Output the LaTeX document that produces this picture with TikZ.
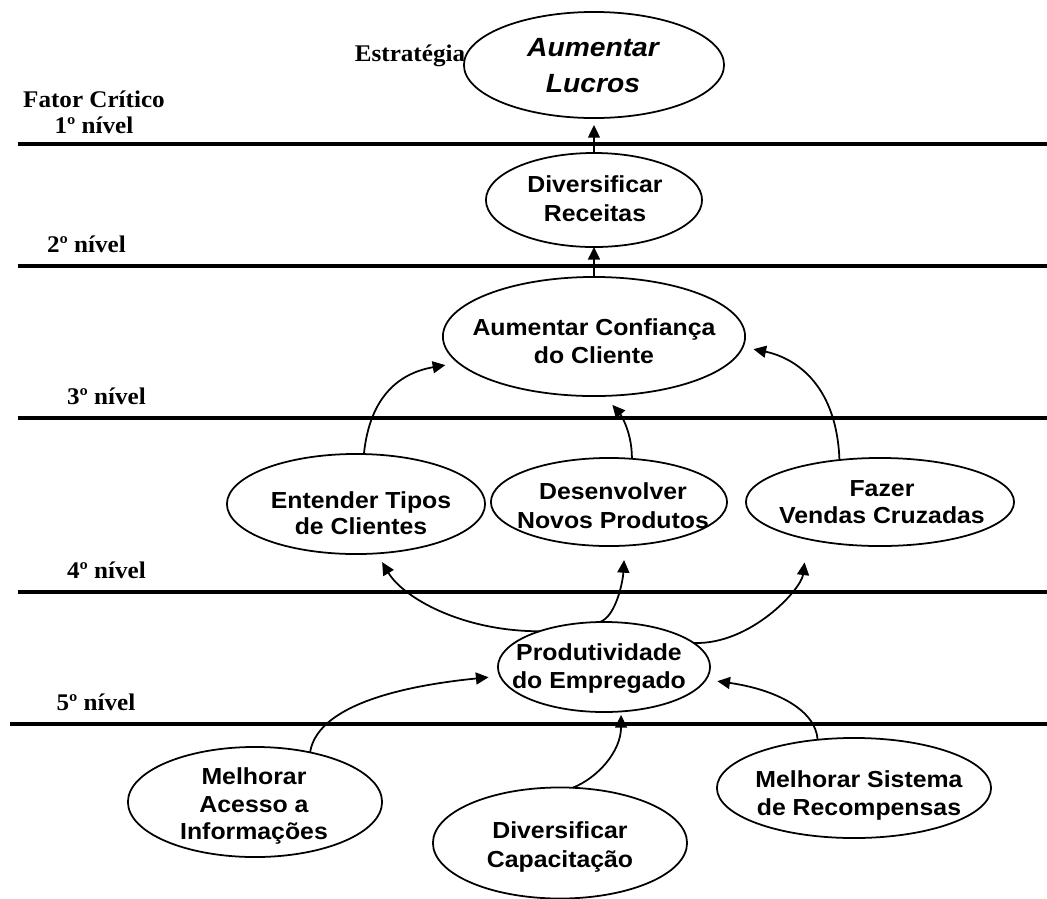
\documentclass[tikz,border=0pt]{standalone}
\usepackage{fontspec}
\usetikzlibrary{arrows.meta,shapes.geometric}
\newfontfamily\lblfont{Liberation Serif}[FakeStretch=1.05]
\newfontfamily\boxfont{Liberation Sans}[FakeStretch=1.07]

\begin{document}
\begin{tikzpicture}[x=0.01cm,y=-0.01cm,
  goal/.style={ellipse,draw,line width=0.5pt,inner sep=0pt,outer sep=0pt},
  boxtxt/.style={anchor=north,align=center,inner sep=0pt,
    font=\boxfont\bfseries\fontsize{6.6pt}{#1}\selectfont},
  boxtxt/.default=7.7pt,
  lvl/.style={inner sep=0pt,font=\lblfont\bfseries\fontsize{6.8pt}{7.4pt}\selectfont},
  level/.style={line width=1.05pt},
  link/.style={line width=0.5pt,-{Triangle[length=3.6pt,width=3.4pt]}}
]
\useasboundingbox (0,0) rectangle (1047,899);

% level separators
\draw[level] (18,144) -- (1047,144);
\draw[level] (18,266) -- (1047,266);
\draw[level] (18,418) -- (1047,418);
\draw[level] (18,592) -- (1047,592);
\draw[level] (10,724) -- (1047,724);

% level captions
\node[lvl,anchor=base] (estr) at (410,61) {Estratégia};
\node[lvl,anchor=north,align=center] (fator) at (94,90) {Fator Crítico\\1º nível};
\node[lvl,anchor=base] (n2) at (86.5,252) {2º nível};
\node[lvl,anchor=base] (n3) at (106.5,404) {3º nível};
\node[lvl,anchor=base] (n4) at (106.5,578) {4º nível};
\node[lvl,anchor=base] (n5) at (96,710) {5º nível};

% goal ellipses
\node[goal,minimum width=2.60cm,minimum height=1.06cm] (luc) at (594,65) {};
\node[goal,minimum width=2.16cm,minimum height=0.94cm] (rec) at (594,200) {};
\node[goal,minimum width=3.02cm,minimum height=1.19cm] (ac)  at (594,336.5) {};
\node[goal,minimum width=2.58cm,minimum height=1.00cm] (ent) at (356,504) {};
\node[goal,minimum width=2.36cm,minimum height=0.88cm] (dev) at (609,502) {};
\node[goal,minimum width=2.68cm,minimum height=0.88cm] (faz) at (880,502) {};
\node[goal,minimum width=2.12cm,minimum height=0.90cm] (pro) at (604,667) {};
\node[goal,minimum width=2.54cm,minimum height=1.10cm] (mel) at (255,802) {};
\node[goal,minimum width=2.54cm,minimum height=1.11cm] (cap) at (560,843) {};
\node[goal,minimum width=2.74cm,minimum height=1.00cm] (sis) at (854,788) {};

% texts of the goals
\node[anchor=north,align=center,inner sep=0pt,
  font=\boxfont\bfseries\itshape\fontsize{7.5pt}{10pt}\selectfont] (tluc) at (593,38) {Aumentar\\Lucros};
\node[boxtxt=8.25pt] (trec) at (595,175.4) {Diversificar\\Receitas};
\node[boxtxt] (tac)  at (594,318.4) {Aumentar Confiança\\do Cliente};
\node[boxtxt=7.2pt] (tent) at (361,491.4) {Entender Tipos\\de Clientes};
\node[boxtxt=8pt] (tdev) at (613,482.4) {Desenvolver\\Novos Produtos};
\node[boxtxt] (tfaz) at (882,479.4) {Fazer\\Vendas Cruzadas};
\node[boxtxt] (tpro) at (599,643.4) {Produtividade\\do Empregado};
\node[boxtxt=7.8pt] (tmel) at (254,767.4) {Melhorar\\Acesso a\\Informações};
\node[boxtxt=8pt] (tcap) at (560,821.4) {Diversificar\\Capacitação};
\node[boxtxt] (tsis) at (859,770.4) {Melhorar Sistema\\de Recompensas};

% causal links
\draw[link,shorten >=2pt] (rec.north) -- (luc.south);
\draw[link] (ac.north) -- (rec.south);
\draw[link,shorten >=3.8pt] (ent.81) .. controls +(6,-59) and +(-58,10) .. (ac.191);
\draw[link,shorten >=3.4pt] (dev.62) .. controls +(0,-30) and +(14,16) .. (ac.280);
\draw[link,shorten >=3.1pt] (faz.134) .. controls +(-3,-80) and +(48,10) .. (ac.356);
\draw[link,shorten >=2.9pt] (pro.151) .. controls +(-78,0) and +(26,44) .. (ent.293);
\draw[link,shorten >=4.1pt] (pro.95) .. controls +(16,-6) and +(-2,36) .. (dev.290);
\draw[link,shorten >=6.7pt] (pro.15) .. controls +(57,2) and +(-6,50) .. (faz.207);
\draw[link,shorten >=3.3pt] (mel.42) .. controls +(8,-52) and +(-80,8) .. (pro.185);
\draw[link,shorten >=1pt] (cap.77) .. controls +(25,-10) and +(0,40) .. (pro.291);
\draw[link,shorten >=3.3pt] (sis.127) .. controls +(-2,-30) and +(70,10) .. (pro.353);
\end{tikzpicture}
\end{document}
